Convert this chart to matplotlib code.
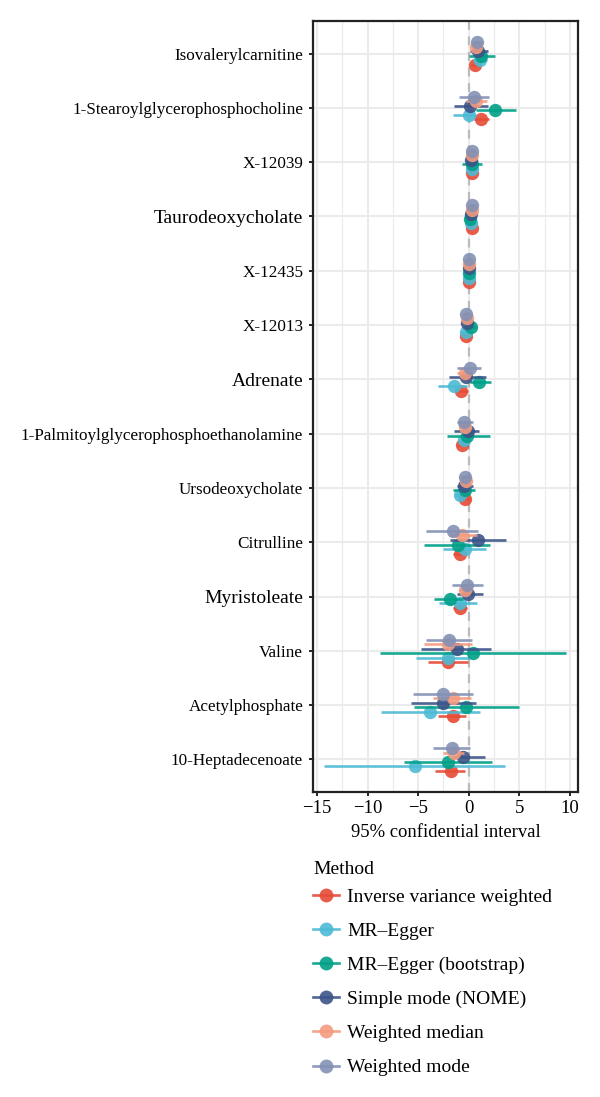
import matplotlib
matplotlib.use("Agg")
import matplotlib.pyplot as plt
from matplotlib.lines import Line2D
import numpy as np

plt.rcParams['font.family'] = ['Liberation Serif', 'DejaVu Serif']

# metabolites, top to bottom
metabolites = ["Isovalerylcarnitine", "1-Stearoylglycerophosphocholine", "X-12039",
               "Taurodeoxycholate", "X-12435", "X-12013", "Adrenate",
               "1-Palmitoylglycerophosphoethanolamine", "Ursodeoxycholate", "Citrulline",
               "Myristoleate", "Valine", "Acetylphosphate", "10-Heptadecenoate"]
big_labels = ["Taurodeoxycholate", "Adrenate", "Myristoleate"]

methods = ["Inverse variance weighted", "MR\u2013Egger", "MR\u2013Egger (bootstrap)",
           "Simple mode (NOME)", "Weighted median", "Weighted mode"]
colors = ["#E64B35", "#4DBBD5", "#00A087", "#3C5488", "#F39B7F", "#8491B4"]

ivw_est = [0.6, 1.25, 0.36, 0.3, 0.05, -0.23, -0.73, -0.66, -0.36, -0.9, -0.9, -2.05, -1.6, -1.8]
ivw_lo = [0.2, 0.5, 0.1, 0.05, -0.15, -0.5, -1.4, -1.2, -0.8, -1.6, -1.6, -4.0, -3.0, -3.3]
ivw_hi = [1.0, 2.0, 0.6, 0.55, 0.25, 0.05, -0.05, -0.1, 0.1, -0.2, -0.2, -0.07, -0.23, -0.33]

egger_est = [1.1, 0.03, 0.33, 0.25, 0.0, -0.3, -1.5, -0.5, -0.83, -0.33, -0.9, -2.1, -3.8, -5.35]
egger_lo = [0.4, -1.55, -0.2, -0.3, -0.3, -0.8, -3.0, -1.1, -1.4, -2.5, -2.9, -5.2, -8.7, -14.3]
egger_hi = [1.8, 0.76, 0.8, 0.8, 0.35, 0.2, -0.2, 0.1, -0.2, 1.7, 0.86, 0.1, 1.1, 3.56]

boot_est = [1.25, 2.57, 0.3, 0.1, 0.05, 0.26, 1.0, -0.13, -0.4, -1.1, -1.9, 0.43, -0.3, -2.1]
boot_lo = [0.03, 0.76, -0.7, -0.4, -0.3, -0.2, 0.1, -2.2, -1.55, -4.4, -3.4, -8.8, -5.4, -6.4]
boot_hi = [2.6, 4.7, 1.3, 0.6, 0.4, 0.7, 2.2, 2.1, 0.66, 2.1, -0.56, 9.6, 5.0, 2.34]

smode_est = [0.9, 0.15, 0.26, 0.2, 0.0, -0.15, -0.23, -0.07, -0.5, 0.96, -0.07, -1.2, -2.54, -0.56]
smode_lo = [0.1, -1.5, 0.0, -0.1, -0.2, -0.4, -2.0, -1.5, -1.2, -1.9, -1.2, -4.7, -5.7, -1.55]
smode_hi = [1.9, 1.9, 0.5, 0.5, 0.2, 0.1, 1.75, 1.0, 0.4, 3.7, 1.4, 2.2, 0.7, 1.6]

wmed_est = [0.76, 0.76, 0.33, 0.3, 0.05, -0.15, -0.4, -0.4, -0.3, -0.63, -0.4, -2.05, -1.55, -1.5]
wmed_lo = [0.3, -0.3, 0.05, 0.0, -0.15, -0.4, -1.2, -0.9, -0.7, -2.0, -1.0, -4.45, -3.5, -2.5]
wmed_hi = [1.2, 1.8, 0.6, 0.6, 0.25, 0.1, 0.4, 0.1, 0.1, 0.8, 0.3, 0.36, 0.26, -0.5]

wmode_est = [0.86, 0.5, 0.36, 0.33, 0.0, -0.23, 0.1, -0.46, -0.4, -1.6, -0.13, -1.95, -2.54, -1.7]
wmode_lo = [0.4, -1.0, 0.1, 0.05, -0.2, -0.5, -1.2, -1.2, -0.8, -4.2, -1.7, -4.2, -5.5, -3.5]
wmode_hi = [1.3, 2.0, 0.6, 0.6, 0.2, 0.05, 1.25, 0.43, 0.0, 0.9, 1.4, 0.33, 0.43, 0.1]

est = [ivw_est, egger_est, boot_est, smode_est, wmed_est, wmode_est]
lo = [ivw_lo, egger_lo, boot_lo, smode_lo, wmed_lo, wmode_lo]
hi = [ivw_hi, egger_hi, boot_hi, smode_hi, wmed_hi, wmode_hi]

fig = plt.figure(figsize=(6, 10.97), dpi=100)
ax = fig.add_axes([313/600, 1 - 792/1097, 265/600, 771/1097])

ypos = np.arange(len(metabolites))
dodge = 0.5 / len(methods)

ax.axvline(0, color="#BBBBBB", lw=1.6, ls=(0, (4, 3)), zorder=1)

for k, m in enumerate(methods):
    y = ypos + (2.5 - k) * dodge
    e = np.array(est[k])
    l = np.array(lo[k])
    h = np.array(hi[k])
    ax.hlines(y, l, h, color=colors[k], lw=1.9, alpha=0.9, zorder=2 + k)
    ax.plot(e, y, 'o', color=colors[k], ms=9.6, alpha=0.9, mec='none', zorder=2 + k)

ax.set_xlim(-15.4, 10.8)
ax.set_ylim(len(metabolites) - 0.4, -0.6)
ax.set_xticks([-15, -10, -5, 0, 5, 10])
ax.set_xticklabels(["\u221215", "\u221210", "\u22125", "0", "5", "10"])
ax.set_xticks(np.arange(-12.5, 10.1, 5), minor=True)
ax.set_yticks(ypos)
ax.set_yticklabels(metabolites)
for lab in ax.get_yticklabels():
    lab.set_fontsize(14 if lab.get_text() in big_labels else 12.3)
ax.tick_params(axis='x', labelsize=13.5, length=3, width=1.2, color='black', pad=3)
ax.tick_params(axis='y', length=3, width=1.2, color='black', pad=4)
ax.tick_params(which='minor', length=0)
ax.grid(True, which='major', color="#EBEBEB", lw=1.5, zorder=0)
ax.grid(True, which='minor', axis='x', color="#EBEBEB", lw=0.9, zorder=0)
ax.set_axisbelow(True)
for s in ax.spines.values():
    s.set_linewidth(1.6)
    s.set_color("#222222")
ax.set_xlabel("95% confidential interval", fontsize=13.4, labelpad=5)

# legend title placed separately so the gap to the first key matches
fig.text(313/600, 1 - 870/1097, "Method", fontsize=14, ha='left', va='center')
handles = [Line2D([], [], color=c, lw=1.9, marker='o', ms=10, mec='none', alpha=0.9)
           for c in colors]
leg = fig.legend(handles, methods, loc='upper left', bbox_to_anchor=(313/600, 1 - 888/1097),
                 frameon=False, fontsize=14, handlelength=1.35, handletextpad=0.4,
                 labelspacing=0.85, borderpad=0, borderaxespad=0)

fig.savefig("out.png", dpi=100)
